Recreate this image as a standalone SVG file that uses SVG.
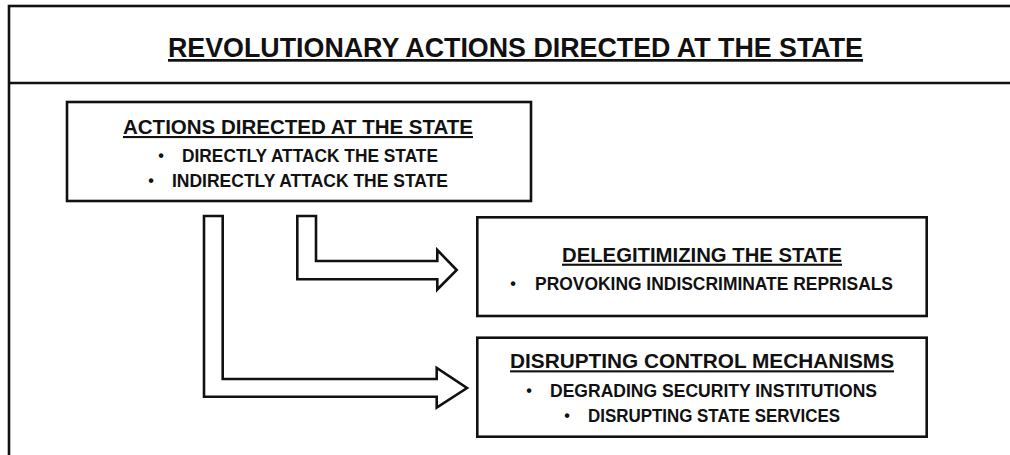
<svg xmlns="http://www.w3.org/2000/svg" width="1010" height="455" viewBox="0 0 1010 455">
<style>
.box{fill:#fff;stroke:#111;stroke-width:2.6}
.arrow{fill:#fff;stroke:#111;stroke-width:2.6;stroke-linejoin:miter}
text{font-family:"Liberation Sans",Arial,sans-serif;font-weight:bold;fill:#111}
.h{text-decoration:underline}
.t0{font-size:27px}
.t1{font-size:21px}
.t2{font-size:18px}
.b{text-anchor:middle;font-size:16px}
</style>
<rect width="1010" height="455" fill="#fff"/>
<g id="frame">
<rect x="9" y="6" width="1010" height="465" fill="none" stroke="#111" stroke-width="2.6"/>
<line x1="9" y1="83" x2="1010" y2="83" stroke="#111" stroke-width="2.6"/>
<text class="t0 h" x="168" y="57" textLength="695" lengthAdjust="spacingAndGlyphs">REVOLUTIONARY ACTIONS DIRECTED AT THE STATE</text>
</g>
<g id="connectors">
<path class="arrow" d="M204,216 L222.7,216 L222.7,379 L436.7,379 L436.7,368 L467,388 L436.7,407.5 L436.7,396.7 L204,396.7 Z"/>
<path class="arrow" d="M297.3,216 L316,216 L316,261 L437.3,261 L437.3,250 L456.7,270 L437.3,289.5 L437.3,279.3 L297.3,279.3 Z"/>
</g>
<g id="actions">
<rect class="box" x="67" y="102" width="464" height="99"/>
<text class="t1 h" x="123" y="134" textLength="350" lengthAdjust="spacingAndGlyphs">ACTIONS DIRECTED AT THE STATE</text>
<text class="b" x="161" y="161">•</text>
<text class="t2" x="182" y="161.7" textLength="256" lengthAdjust="spacingAndGlyphs">DIRECTLY ATTACK THE STATE</text>
<text class="b" x="151" y="186">•</text>
<text class="t2" x="172" y="186.7" textLength="276" lengthAdjust="spacingAndGlyphs">INDIRECTLY ATTACK THE STATE</text>
</g>
<g id="delegitimizing">
<rect class="box" x="477.3" y="217.3" width="449.4" height="98.7"/>
<text class="t1 h" x="562" y="261.7" textLength="280" lengthAdjust="spacingAndGlyphs">DELEGITIMIZING THE STATE</text>
<text class="b" x="513" y="289">•</text>
<text class="t2" x="535" y="290" textLength="358" lengthAdjust="spacingAndGlyphs">PROVOKING INDISCRIMINATE REPRISALS</text>
</g>
<g id="disrupting">
<rect class="box" x="477.3" y="337.7" width="449.4" height="99"/>
<text class="t1 h" x="510" y="368.3" textLength="384" lengthAdjust="spacingAndGlyphs">DISRUPTING CONTROL MECHANISMS</text>
<text class="b" x="529" y="396">•</text>
<text class="t2" x="550" y="396.7" textLength="327" lengthAdjust="spacingAndGlyphs">DEGRADING SECURITY INSTITUTIONS</text>
<text class="b" x="567" y="421">•</text>
<text class="t2" x="588" y="421.7" textLength="252" lengthAdjust="spacingAndGlyphs">DISRUPTING STATE SERVICES</text>
</g>
</svg>
